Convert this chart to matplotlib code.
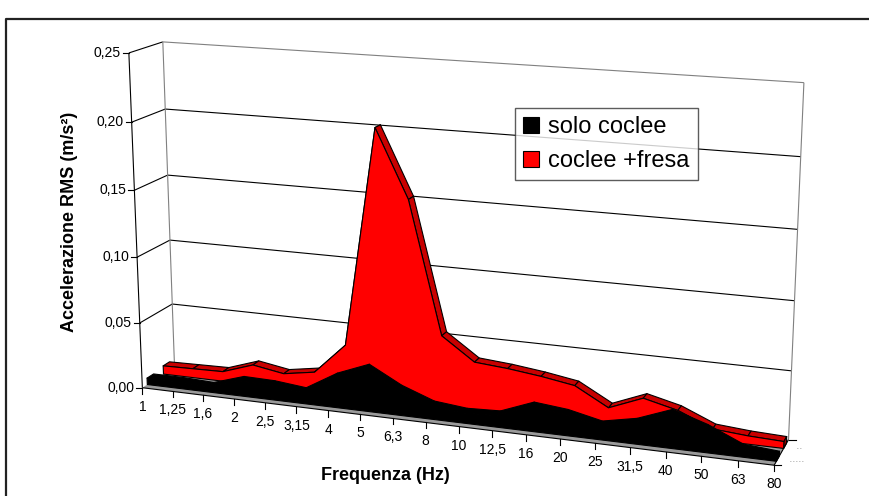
"""
3-D area chart of RMS acceleration per one-third octave band,
drawn with a small perspective camera onto a plain matplotlib canvas.
"""
import numpy as np
import matplotlib.pyplot as plt
from matplotlib.patches import Polygon, Patch

plt.rcParams['font.family'] = ['Liberation Sans', 'DejaVu Sans']

FREQ_LABELS = ['1', '1,25', '1,6', '2', '2,5', '3,15', '4', '5', '6,3', '8',
               '10', '12,5', '16', '20', '25', '31,5', '40', '50', '63', '80']
SOLO_COCLEE = [0.005, 0.005, 0.004, 0.0115, 0.011, 0.0085, 0.0225, 0.032, 0.019, 0.010,
               0.0075, 0.0085, 0.018, 0.0155, 0.010, 0.015, 0.0245, 0.0165, 0.0055, 0.0035]
COCLEE_FRESA = [0.0065, 0.007, 0.0075, 0.0155, 0.0115, 0.0155, 0.039, 0.202, 0.152, 0.054,
                0.037, 0.035, 0.032, 0.028, 0.0145, 0.0245, 0.0185, 0.008, 0.006, 0.005]
SERIES_NAMES = ['solo coclee', 'coclee +fresa']
Y_TICKS = [0.0, 0.05, 0.10, 0.15, 0.20, 0.25]
Y_MAX = 0.25

W, H = 869, 496

# plot box corners: (category fraction, value fraction, depth) -> canvas pixel
BOX_POINTS = [
    ((0, 0, 0), (143, 389)), ((0, 0.2, 0), (140, 322)), ((0, 0.4, 0), (137, 257)),
    ((0, 0.6, 0), (134, 190)), ((0, 0.8, 0), (132, 122)), ((0, 1, 0), (129, 53)),
    ((1, 0, 0), (775, 465)), ((7 / 19, 0, 0), (360, 415)), ((13 / 19, 0, 0), (559, 439)),
    ((0, 1, 1), (162, 42)), ((0, 0.8, 1), (166, 109)), ((0, 0.4, 1), (170, 239)),
    ((0, 0.2, 1), (172, 305)), ((1, 1, 1), (804, 83)), ((1, 0.8, 1), (801, 157)),
    ((1, 0.6, 1), (798, 229)), ((1, 0.4, 1), (793, 301)), ((1, 0.2, 1), (792, 372)),
    ((1, 0, 1), (789, 438)),
]

# depth slots of the two ribbons (front = 0, back wall = 1)
DEPTH = {'solo coclee': (0.15, 0.35), 'coclee +fresa': (0.65, 0.85)}


def fit_camera(pairs):
    """Direct linear transform for a 3x4 projection matrix."""
    rows = []
    for (x, y, z), (u, v) in pairs:
        u = (u - W / 2) / W
        v = (v - H / 2) / W
        rows.append([x, y, z, 1, 0, 0, 0, 0, -u * x, -u * y, -u * z, -u])
        rows.append([0, 0, 0, 0, x, y, z, 1, -v * x, -v * y, -v * z, -v])
    _, _, vt = np.linalg.svd(np.array(rows, dtype=float))
    return vt[-1].reshape(3, 4)


CAM = fit_camera(BOX_POINTS)


def project(t, val, z):
    t, val, z = np.broadcast_arrays(np.asarray(t, float), np.asarray(val, float) / Y_MAX,
                                    np.asarray(z, float))
    h = CAM @ np.vstack([t.ravel(), val.ravel(), z.ravel(), np.ones(t.size)])
    return h[0] / h[2] * W + W / 2, h[1] / h[2] * W + H / 2


def face(ax, t, val, z, fc, ec='black', lw=0.8, zorder=2):
    u, v = project(t, val, z)
    ax.add_patch(Polygon(np.column_stack([u, v]), closed=True, fc=fc, ec=ec, lw=lw,
                         joinstyle='round', zorder=zorder))


def line(ax, t, val, z, color='black', lw=0.8, zorder=1):
    u, v = project(t, val, z)
    ax.plot(u, v, color=color, lw=lw, zorder=zorder, solid_capstyle='butt')


def draw_ribbon(ax, values, z0, z1, front, top, side):
    v = np.asarray(values, float)
    t = np.linspace(0, 1, len(v))
    for i in range(len(v) - 1):
        face(ax, [t[i], t[i + 1], t[i + 1], t[i]], [v[i], v[i + 1], v[i + 1], v[i]],
             [z0, z0, z1, z1], top)
    face(ax, [1, 1, 1, 1], [0, v[-1], v[-1], 0], [z0, z0, z1, z1], side)
    face(ax, np.r_[t, 1, 0], np.r_[v, 0, 0], z0, front)


fig = plt.figure(figsize=(W / 100, H / 100), dpi=100)
ax = fig.add_axes([0, 0, 1, 1])
ax.set_xlim(0, W)
ax.set_ylim(H, 0)
ax.axis('off')

# outer chart frame
ax.plot([6, 6, W], [H, 19, 19], color='#222222', lw=1.6)

# walls and gridlines
for yv in Y_TICKS[1:]:
    line(ax, [0, 0], [yv, yv], [0, 1])
    line(ax, [0, 1], [yv, yv], [1, 1], color='#808080' if yv == Y_MAX else 'black')
line(ax, [0, 0], [0, Y_MAX], [1, 1], color='#808080')
line(ax, [1, 1], [0, Y_MAX], [1, 1], color='#808080')

# floor
face(ax, [0, 1, 1, 0], [0, 0, 0, 0], [0, 0, 1, 1], '#9a9a9a', ec='none')

draw_ribbon(ax, COCLEE_FRESA, *DEPTH['coclee +fresa'], front='#ff0000', top='#c80000', side='#a00000')
draw_ribbon(ax, SOLO_COCLEE, *DEPTH['solo coclee'], front='black', top='black', side='black')

# axes lines
line(ax, [0, 0], [0, Y_MAX], [0, 0], zorder=5)
line(ax, [0, 1], [0, 0], [0, 0], zorder=5)
line(ax, [1, 1], [0, 0], [0, 1], zorder=5)

for yv in Y_TICKS:
    u, v = project(0, yv, 0)
    ax.plot([u[0] - 6, u[0]], [v[0], v[0]], color='black', lw=0.8, zorder=5)
    ax.text(u[0] - 8, v[0], f'{yv:.2f}'.replace('.', ','), ha='right', va='center', fontsize=10)

cat_t = np.linspace(0, 1, len(FREQ_LABELS))
for tc, lab in zip(cat_t, FREQ_LABELS):
    u, v = project(tc, 0, 0)
    ax.plot([u[0], u[0]], [v[0], v[0] + 6], color='black', lw=0.8, zorder=5)
    ax.text(u[0], v[0] + 19, lab, ha='center', va='center', fontsize=10)

for zt in (0, 1):
    u, v = project(1, 0, zt)
    ax.plot([u[0], u[0] + 7], [v[0], v[0]], color='black', lw=0.8, zorder=5)
for name, dots in zip(SERIES_NAMES, ['- - - - -', '- -']):
    z0, z1 = DEPTH[name]
    u, v = project(1, 0, (z0 + z1) / 2)
    ax.text(u[0] + 12, v[0] + 3, dots, fontsize=3.5, color='#555555', va='center')

ax.text(69, 222, 'Accelerazione RMS (m/s²)', rotation=90, ha='center', va='center',
        fontsize=13, fontweight='bold')
ax.text(385, 475, 'Frequenza (Hz)', ha='center', va='center', fontsize=13, fontweight='bold')

handles = [Patch(fc='black', ec='black', lw=0.8), Patch(fc='#ff0000', ec='black', lw=0.8)]
leg = fig.legend(handles, SERIES_NAMES, loc='upper left', bbox_to_anchor=(515 / W, 1 - 108 / H),
                 fontsize=17, frameon=True, fancybox=False, borderaxespad=0, borderpad=0.35,
                 handlelength=0.65, handleheight=0.65, handletextpad=0.4, labelspacing=0.5)
leg.get_frame().set_edgecolor('#333333')
leg.get_frame().set_linewidth(1.0)
leg.set_zorder(10)

fig.savefig('out.png', dpi=100)
